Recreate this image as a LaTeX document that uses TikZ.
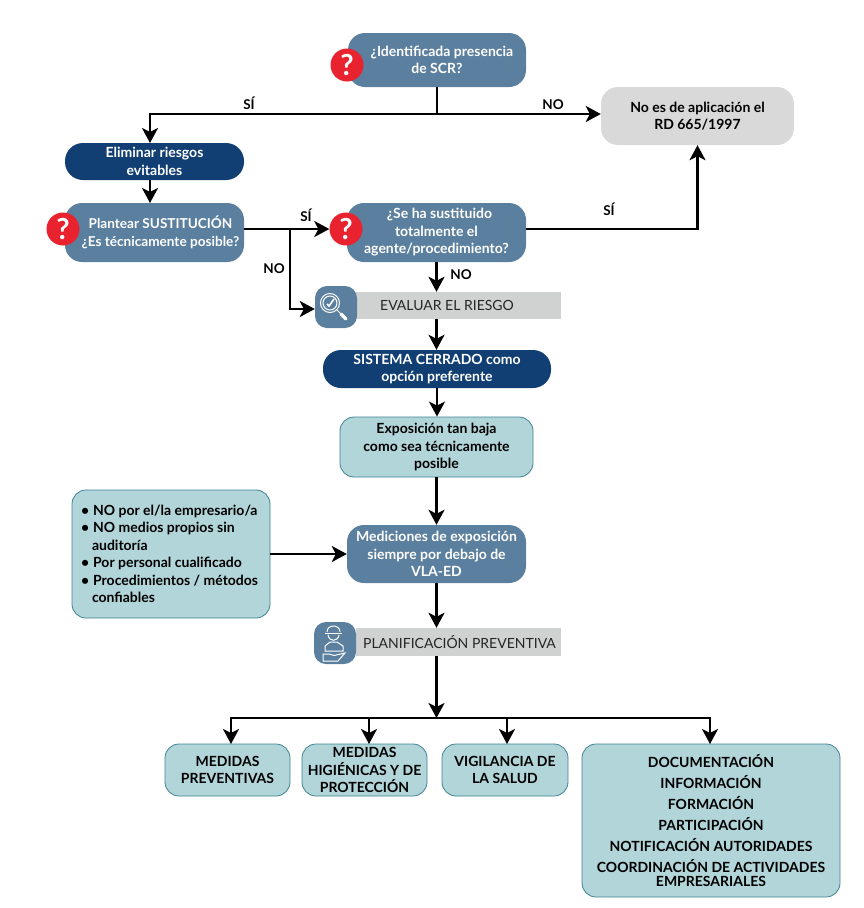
\documentclass[tikz,border=0pt]{standalone}
\usepackage{fontspec}
\setmainfont{Lato}
\usepackage{tikz}
\usetikzlibrary{arrows.meta}
\definecolor{steelbox}{HTML}{5B7F9E}
\definecolor{navybox}{HTML}{123F73}
\definecolor{tealbox}{HTML}{B1D5D8}
\definecolor{tealline}{HTML}{3F8392}
\definecolor{greybox}{HTML}{D9D9D9}
\definecolor{greybar}{HTML}{D0D2D1}
\definecolor{redbadge}{HTML}{E8222E}
\tikzset{
	box/.style={rounded corners=17pt, align=center, inner sep=0pt, font=\fontsize{14}{17.5}\selectfont\bfseries},
	question/.style={box, fill=steelbox, text=white},
	darkbox/.style={box, fill=navybox, text=white},
	lightbox/.style={box, fill=tealbox, draw=tealline, line width=0.8pt, text=black, rounded corners=14pt},
	badge/.style={circle, fill=redbadge, text=white, minimum size=33pt, inner sep=0pt, font=\fontsize{29}{29}\selectfont\bfseries},
	iconbox/.style={rounded corners=12pt, fill=steelbox, inner sep=0pt, minimum width=42pt, minimum height=42pt},
	bar/.style={fill=greybar, text=black!85, inner sep=0pt, minimum width=205pt, font=\fontsize{14}{16}\selectfont},
	tag/.style={inner sep=0pt, font=\fontsize{13.5}{15}\selectfont\bfseries},
	link/.style={line width=2.5pt, -{Stealth[length=15pt,width=16pt,inset=4pt]}},
	plainlink/.style={line width=2.5pt},
	iconline/.style={draw=white, line width=1pt}
}
\begin{document}
\begin{tikzpicture}[x=1pt,y=-1pt]
\useasboundingbox (0,0) rectangle (864,908);

% preguntas
\node[question, minimum width=178pt, minimum height=54pt] (q1) at (437,60) {\hspace*{10pt}¿Identificada presencia\\de SCR?};
\node[box, fill=greybox, minimum width=193pt, minimum height=58pt] (noapl) at (697.5,116) {No es de aplicación el\\RD 665/1997};
\node[darkbox, minimum width=179pt, minimum height=37pt, rounded corners=18pt] (elim) at (154.5,161.5) {Eliminar riesgos\\evitables};
\node[question, minimum width=179pt, minimum height=59pt, font=\fontsize{13.6}{17.5}\selectfont\bfseries] (plant) at (154.5,232.5) {\hspace*{12pt}Plantear SUSTITUCIÓN\\\hspace*{12pt}¿Es técnicamente posible?};
\node[question, minimum width=179pt, minimum height=59pt] (q2) at (436.5,232.5) {\hspace*{6pt}¿Se ha sustituido\\totalmente el\\agente/procedimiento?};

% evaluar
\node[bar, minimum height=27pt] (evalbar) at (458.5,305.5) {\hspace*{-23pt}EVALUAR EL RIESGO};
\node[iconbox] (evalicon) at (336,307) {};
\node[darkbox, minimum width=228pt, minimum height=38pt, rounded corners=18pt] (cerrado) at (437,369) {SISTEMA CERRADO como\\opción preferente};
\node[lightbox, minimum width=193pt, minimum height=60pt] (expo) at (436.5,447) {Exposición tan baja\\como sea técnicamente\\posible};
\node[question, minimum width=179pt, minimum height=58pt] (medic) at (436.5,554) {Mediciones de exposición\\siempre por debajo de\\VLA-ED};
\node[lightbox, minimum width=198pt, minimum height=128pt, align=left] (lista) at (171,554) {%
	\parbox{180pt}{\fontsize{14}{17.5}\selectfont\bfseries
	\hangindent=11pt\hangafter=1 •\hspace{4pt}NO por el/la empresario/a\par
	\hangindent=11pt\hangafter=1 •\hspace{4pt}NO medios propios sin\\auditoría\par
	\hangindent=11pt\hangafter=1 •\hspace{4pt}Por personal cualificado\par
	\hangindent=11pt\hangafter=1 •\hspace{4pt}Procedimientos / métodos\\confiables}};

% planificacion
\node[bar, minimum height=28pt] (planbar) at (458.5,642) {\hspace*{2pt}PLANIFICACIÓN PREVENTIVA};
\node[iconbox] (planicon) at (335,643) {};

% medidas
\node[lightbox, minimum width=125pt, minimum height=52pt] (prev) at (227.5,770) {MEDIDAS\\PREVENTIVAS};
\node[lightbox, minimum width=125pt, minimum height=52pt] (hig) at (364.5,770) {MEDIDAS\\HIGIÉNICAS Y DE\\PROTECCIÓN};
\node[lightbox, minimum width=126pt, minimum height=52pt] (vig) at (505,770) {VIGILANCIA DE\\LA SALUD};
\node[lightbox, minimum width=258pt, minimum height=153pt] (docu) at (711,820.5) {%
	DOCUMENTACIÓN\\[3.5pt]INFORMACIÓN\\[3.5pt]FORMACIÓN\\[3.5pt]PARTICIPACIÓN\\[3.5pt]NOTIFICACIÓN AUTORIDADES\\[3.5pt]COORDINACIÓN DE ACTIVIDADES\\[-3.5pt]EMPRESARIALES};

% interrogaciones
\node[badge] (b1) at (347,65) {?};
\node[badge] (b2) at (63,229) {?};
\node[badge] (b3) at (346,229) {?};

% cruces
\coordinate (j1) at (q1.south |- 0,114);
\coordinate (j2) at (290,229);
\coordinate (j3) at (437,718);
\coordinate (ea) at (150,143);
\coordinate (eb) at (150,180);
\coordinate (pa) at (150,203);

% conectores
\draw[plainlink] (q1.south) -- (j1);
\draw[link] (j1) -| (ea);
\draw[link] (j1) -- (noapl.west |- j1);
\draw[link] (eb) -- (pa);
\draw[link] (plant.east |- j2) -- (b3.west);
\draw[link] (j2) |- (evalicon.west |- 0,309);
\draw[link] (q2.east |- j2) -| (noapl.south);
\draw[link] (q2.south) -- (q2.south |- evalbar.north);
\draw[link] (evalbar.south -| q2.south) -- (cerrado.north -| q2.south);
\draw[link] (cerrado.south) -- (expo.north -| cerrado.south);
\draw[link] (expo.south) -- (medic.north);
\draw[link] (lista.east) -- (medic.west);
\draw[link] (medic.south) -- (medic.south |- planbar.north);
\draw[link] (planbar.south -| medic.south) -- (medic.south |- j3);
\draw[plainlink] (230,718) -- (711,718);
\draw[link] (231,718) -- (231,744);
\draw[link] (369,718) -- (369,744);
\draw[link] (507,718) -- (507,744);
\draw[link] (710,718) -- (710,744);

% etiquetas
\node[tag] (si1) at (249,103) {SÍ};
\node[tag] (no1) at (553,105) {NO};
\node[tag] (si2) at (306,215) {SÍ};
\node[tag] (no2) at (274,269) {NO};
\node[tag] (si3) at (609,209) {SÍ};
\node[tag] (no3) at (461,275) {NO};

% lupa
\draw[iconline] (330,303) circle (9.5pt);
\draw[iconline] (330,303) circle (7pt);
\draw[iconline, line width=1.6pt] (327,304) -- (329,306) -- (334,299);
\draw[iconline] (337,310) -- (340,313);
\draw[iconline, line width=3.5pt, line cap=round] (341,314) -- (346,319);

% trabajador
\draw[iconline] (327,632) .. controls (327,624) and (340,624) .. (340,632);
\draw[iconline] (325,633) -- (342,633);
\draw[iconline] (328,635) .. controls (329,642) and (338,642) .. (339,635);
\draw[iconline] (325,651) -- (325,646) -- (330,642) -- (337,642) -- (343,646) -- (343,651) -- cycle;
\draw[iconline] (323,654) -- (329,654) -- (334,655.5) -- (345,653) -- (338,661) -- (323,661) -- cycle;
\end{tikzpicture}
\end{document}
